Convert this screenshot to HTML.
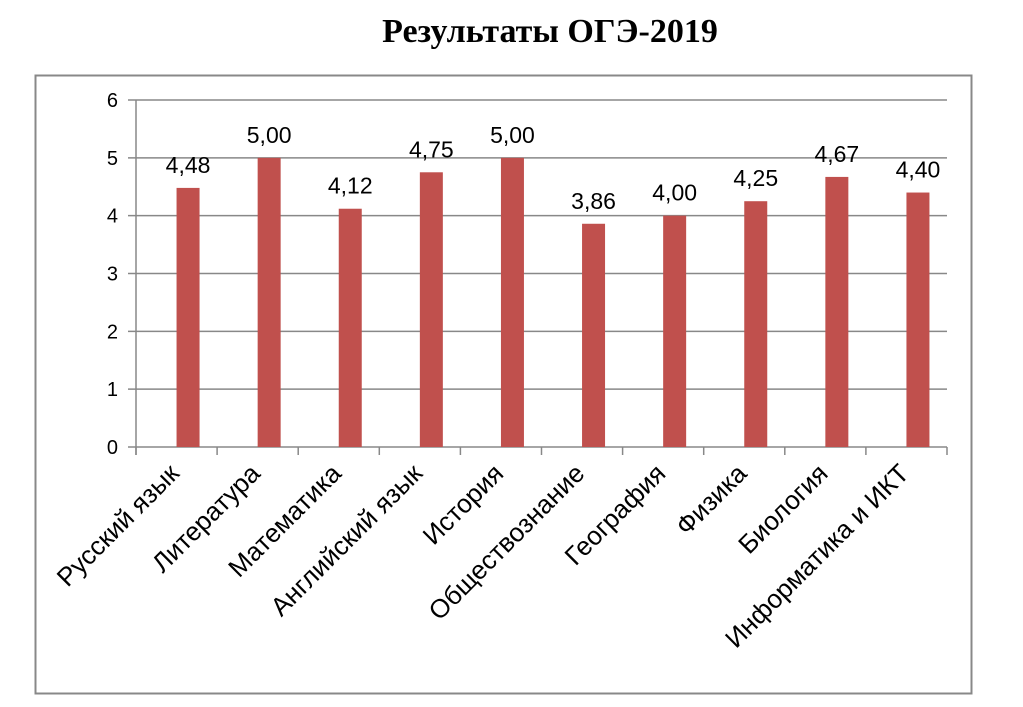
<!DOCTYPE html>
<html><head><meta charset="utf-8"><style>
html,body{margin:0;padding:0;background:#fff;}
svg{display:block;font-family:"Liberation Sans","DejaVu Sans",sans-serif;}
</style></head><body>
<svg id="chart" width="1023" height="707" viewBox="0 0 1023 707">
<text x="550" y="42" text-anchor="middle" font-family="Liberation Serif, serif" font-weight="bold" font-size="34">Результаты ОГЭ-2019</text>
<rect x="35.5" y="75.5" width="936" height="618" fill="none" stroke="#888" stroke-width="2"/>
<g id="grid"></g><g id="bars"></g><g id="labels"></g>
</svg>
<script>
const categories = ["Русский язык","Литература","Математика","Английский язык","История","Обществознание","География","Физика","Биология","Информатика и ИКТ"];
const values = [4.48,5.00,4.12,4.75,5.00,3.86,4.00,4.25,4.67,4.40];
const valueLabels = ["4,48","5,00","4,12","4,75","5,00","3,86","4,00","4,25","4,67","4,40"];
const yTicks = [0,1,2,3,4,5,6];
const NS="http://www.w3.org/2000/svg";
const X0=136,X1=947,Y0=447,Y1=100,YMAX=6;
const catW=(X1-X0)/categories.length;
const y=v=>Y0-(v/YMAX)*(Y0-Y1);
const xs=i=>X0+i*catW;
function mk(tag,attrs,parent){const e=document.createElementNS(NS,tag);for(const k in attrs)e.setAttribute(k,attrs[k]);parent.appendChild(e);return e;}
const grid=document.getElementById('grid'),bars=document.getElementById('bars'),labels=document.getElementById('labels');
yTicks.forEach(t=>{
  const l=mk('line',{x1:X0-8,x2:X1,y1:y(t),y2:y(t),stroke:'#888','stroke-width':1.5},grid);
  
  
  const tx=mk('text',{x:X0-18,y:y(t)+7,'text-anchor':'end','font-size':20},grid);
  tx.textContent=t;
  
  
});
const ax=mk('line',{x1:X0,x2:X0,y1:Y1,y2:Y0+8,stroke:'#888','stroke-width':1.5},grid);


for(let i=0;i<=categories.length;i++){
  const tk=mk('line',{x1:xs(i),x2:xs(i),y1:Y0,y2:Y0+8,stroke:'#888','stroke-width':1.5},grid);
  
  
}
categories.forEach((c,i)=>{
  const cx=xs(i)+catW/2;
  const bw=23;
  const r=mk('rect',{x:cx,y:y(values[i]),width:bw,height:Y0-y(values[i]),fill:'#c0504d'},bars);
  
  
  const vl=mk('text',{x:cx+bw/2,y:y(values[i])-15,'text-anchor':'middle','font-size':23},labels);
  vl.textContent=valueLabels[i];
  
  
  const lx=cx+4,ly=Y0+28;
  const cl=mk('text',{x:lx,y:ly,'text-anchor':'end','font-size':26,transform:`rotate(-45 ${lx} ${ly})`},labels);
  cl.textContent=c;
  
  
});
</script>
</body></html>
